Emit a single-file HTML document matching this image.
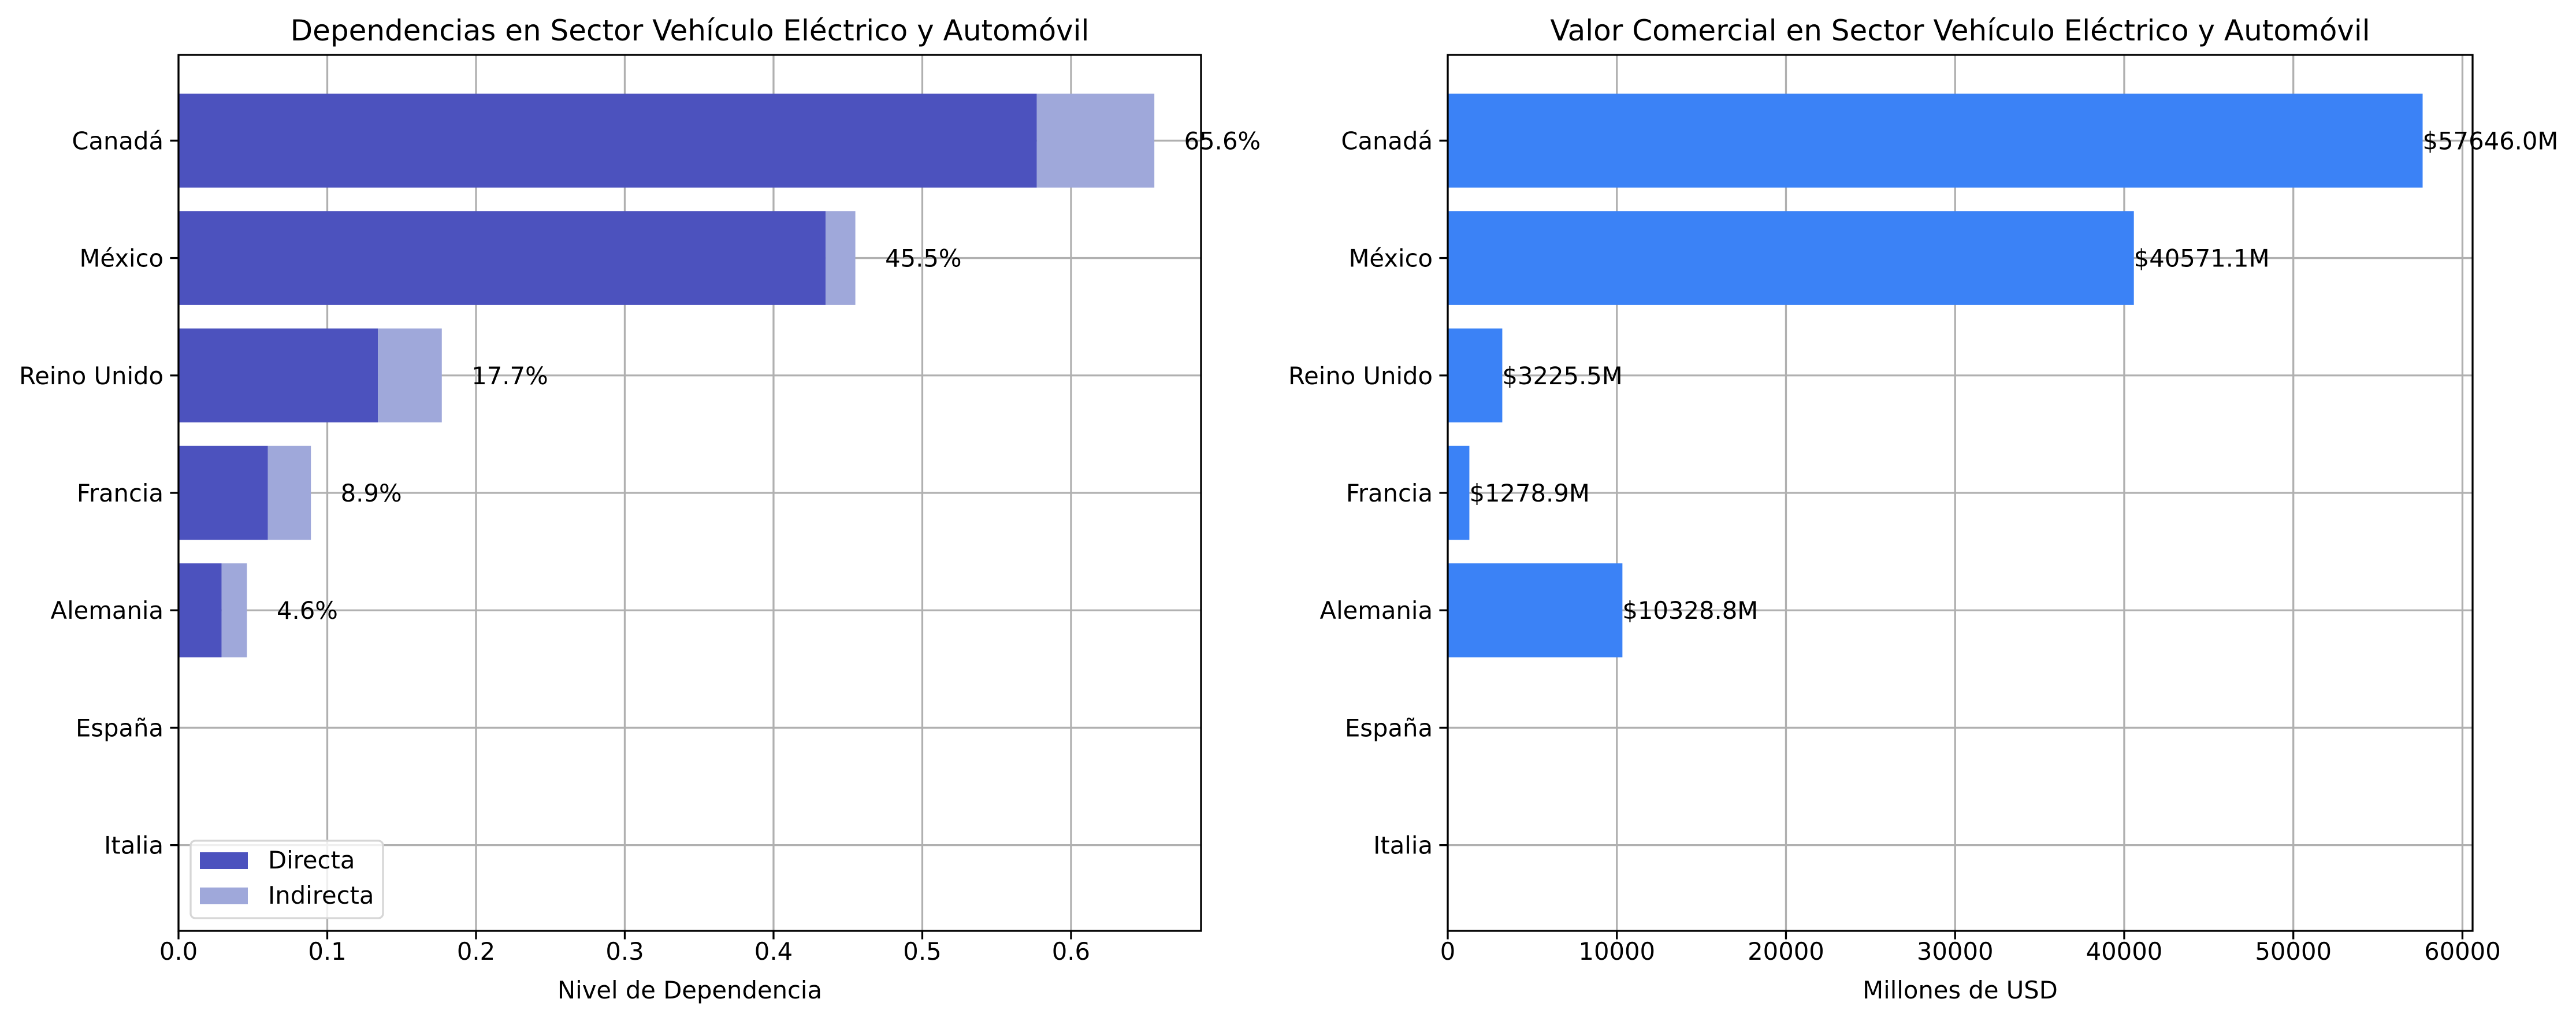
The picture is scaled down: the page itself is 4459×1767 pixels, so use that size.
<!DOCTYPE html>
<html><head><meta charset="utf-8"><style>
html,body{margin:0;padding:0;background:#fff;}
svg{display:block;font-family:"DejaVu Sans","Liberation Sans",sans-serif;}
</style></head><body>
<svg id="chart" width="4459" height="1767" viewBox="0 0 4459 1767" xmlns="http://www.w3.org/2000/svg">
<rect width="4459" height="1767" fill="#fff"/>
<g id="left"></g>
<g id="right"></g>
</svg>
<script>
const categories = ["Canadá","México","Reino Unido","Francia","Alemania","España","Italia"];
const directa = [0.577,0.435,0.134,0.060,0.029,0,0];
const indirecta = [0.079,0.020,0.043,0.029,0.017,0,0];
const totalLabels = ["65.6%","45.5%","17.7%","8.9%","4.6%","",""];
const leftTicks = [0,0.1,0.2,0.3,0.4,0.5,0.6];
const leftTickLabels = ["0.0","0.1","0.2","0.3","0.4","0.5","0.6"];
const valores = [57646.0,40571.1,3225.5,1278.9,10328.8,0,0];
const valorLabels = ["$57646.0M","$40571.1M","$3225.5M","$1278.9M","$10328.8M","",""];
const rightTicks = [0,10000,20000,30000,40000,50000,60000];
const rightTickLabels = ["0","10000","20000","30000","40000","50000","60000"];

const NS="http://www.w3.org/2000/svg";
const TOP=95, BOT=1611;
const FS=41.7;
function mk(parent,tag,attrs,text){const e=document.createElementNS(NS,tag);for(const k in attrs)e.setAttribute(k,attrs[k]);if(text!==undefined)e.textContent=text;parent.appendChild(e);return e;}
function yScale(i){const lo=-0.73,hi=6.73;return TOP+(i-lo)/(hi-lo)*(BOT-TOP);}
const band=(yScale(1)-yScale(0))*0.8;

function axes(g,L,R,xmax,ticks,tickLabels,title,xlabel){
  const xs=v=>L+v/xmax*(R-L);
  ticks.forEach((t,i)=>{
    const l=mk(g,'line',{x1:xs(t),x2:xs(t),y1:TOP,y2:BOT,stroke:'#b0b0b0','stroke-width':3.3});
    
    
  });
  categories.forEach((c,i)=>{
    const l=mk(g,'line',{x1:L,x2:R,y1:yScale(i),y2:yScale(i),stroke:'#b0b0b0','stroke-width':3.3});
    
    
  });
  return xs;
}
function frame(g,L,R,xs,ticks,tickLabels,title,xlabel){
  const f=mk(g,'rect',{x:L,y:TOP,width:R-L,height:BOT-TOP,fill:'none',stroke:'#000','stroke-width':3.3});
  
  
  ticks.forEach((t,i)=>{
    mk(g,'line',{x1:xs(t),x2:xs(t),y1:BOT,y2:BOT+14.6,stroke:'#000','stroke-width':3.3});
    const tx=mk(g,'text',{x:xs(t),y:BOT+50,'font-size':FS,'text-anchor':'middle'},tickLabels[i]);
    
    
  });
  categories.forEach((c,i)=>{
    mk(g,'line',{x1:L-14.6,x2:L,y1:yScale(i),y2:yScale(i),stroke:'#000','stroke-width':3.3});
    const tx=mk(g,'text',{x:L-26,y:yScale(i)+15,'font-size':FS,'text-anchor':'end'},c);
    
    
  });
  const t=mk(g,'text',{x:(L+R)/2,y:70,'font-size':50,'text-anchor':'middle'},title);
  
  
  const xl=mk(g,'text',{x:(L+R)/2,y:1728,'font-size':FS,'text-anchor':'middle'},xlabel);
  
  
}

(function(){
  const g=document.getElementById('left');
  const L=309,R=2079,xmax=0.6874;
  const xs=axes(g,L,R,xmax,leftTicks,leftTickLabels);
  categories.forEach((c,i)=>{
    const y=yScale(i)-band/2;
    if(directa[i]>0){
      const b=mk(g,'rect',{x:xs(0),y:y,width:xs(directa[i])-xs(0),height:band,fill:'#4c52be'});
      
      
    }
    if(indirecta[i]>0){
      const b=mk(g,'rect',{x:xs(directa[i]),y:y,width:xs(directa[i]+indirecta[i])-xs(directa[i]),height:band,fill:'#9fa8da'});
      
      
    }
    if(totalLabels[i]){
      const t=mk(g,'text',{x:xs(directa[i]+indirecta[i]+0.02),y:yScale(i)+15,'font-size':FS},totalLabels[i]);
      
      
    }
  });
  frame(g,L,R,xs,leftTicks,leftTickLabels,'Dependencias en Sector Vehículo Eléctrico y Automóvil','Nivel de Dependencia');
  const lg=mk(g,'g',{});
  
  
  mk(lg,'rect',{x:330,y:1455,width:333,height:134,rx:8,fill:'#fff','fill-opacity':0.8,stroke:'#d6d6d6','stroke-width':3.3});
  mk(lg,'rect',{x:346,y:1475,width:83,height:29,fill:'#4c52be'});
  const t1=mk(lg,'text',{x:464,y:1503,'font-size':FS},'Directa');
  
  
  mk(lg,'rect',{x:346,y:1536,width:83,height:29,fill:'#9fa8da'});
  const t2=mk(lg,'text',{x:464,y:1564,'font-size':FS},'Indirecta');
  
  
})();

(function(){
  const g=document.getElementById('right');
  const L=2506,R=4280,xmax=60600;
  const xs=axes(g,L,R,xmax,rightTicks,rightTickLabels);
  categories.forEach((c,i)=>{
    const y=yScale(i)-band/2;
    if(valores[i]>0){
      const b=mk(g,'rect',{x:xs(0),y:y,width:xs(valores[i])-xs(0),height:band,fill:'#3b82f6'});
      
      
    }
    if(valorLabels[i]){
      const t=mk(g,'text',{x:xs(valores[i]),y:yScale(i)+15,'font-size':FS},valorLabels[i]);
      
      
    }
  });
  frame(g,L,R,xs,rightTicks,rightTickLabels,'Valor Comercial en Sector Vehículo Eléctrico y Automóvil','Millones de USD');
})();
</script>
</body></html>
